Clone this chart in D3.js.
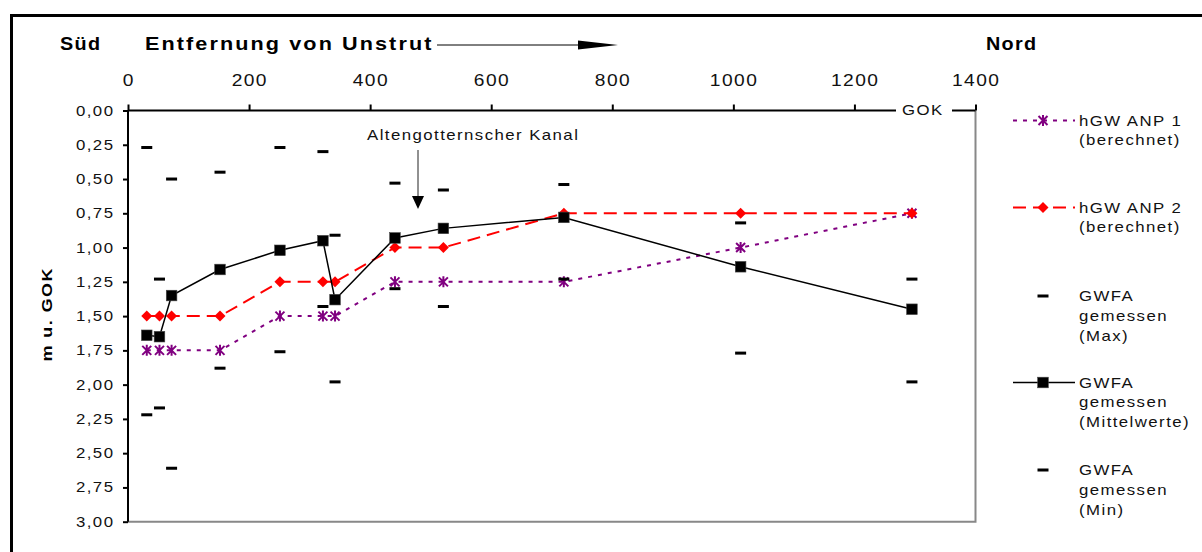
<!DOCTYPE html>
<html>
<head>
<meta charset="utf-8">
<script src="https://cdn.jsdelivr.net/npm/d3@7"></script>
<style>
  html, body { margin: 0; padding: 0; background: #fff; }
  svg { display: block; font-family: "Liberation Sans", Arial, sans-serif; }
</style>
</head>
<body>
<svg id="chart" width="1202" height="552"></svg>
<script>
// ---- data ----
const distances = [31, 52, 72, 152, 251, 322, 342, 441, 521, 720, 1012, 1295];
const anp1      = [1.75, 1.75, 1.75, 1.75, 1.50, 1.50, 1.50, 1.25, 1.25, 1.25, 1.00, 0.75];
const anp2      = [1.50, 1.50, 1.50, 1.50, 1.25, 1.25, 1.25, 1.00, 1.00, 0.75, 0.75, 0.75];
const gwfaMax   = [0.27, 1.23, 0.50, 0.45, 0.27, 0.30, 0.91, 0.53, 0.58, 0.54, 0.82, 1.23];
const gwfaMean  = [1.64, 1.65, 1.35, 1.16, 1.02, 0.95, 1.38, 0.93, 0.86, 0.78, 1.14, 1.45];
const gwfaMin   = [2.22, 2.17, 2.61, 1.88, 1.76, 1.43, 1.98, 1.30, 1.43, 1.23, 1.77, 1.98];
const xTicks = [0, 200, 400, 600, 800, 1000, 1200, 1400];
const yTicks = [0, 0.25, 0.5, 0.75, 1, 1.25, 1.5, 1.75, 2, 2.25, 2.5, 2.75, 3];
const legendLabels = [
  ["hGW ANP 1", "(berechnet)"],
  ["hGW ANP 2", "(berechnet)"],
  ["GWFA", "gemessen", "(Max)"],
  ["GWFA", "gemessen", "(Mittelwerte)"],
  ["GWFA", "gemessen", "(Min)"]
];

const svg = d3.select("#chart");
const SX = 1.2;   // horizontal stretch of the text
const LS = 1.2;   // letter spacing (before stretch)

const x = d3.scaleLinear().domain([0, 1400]).range([128, 975.5]);
const y = d3.scaleLinear().domain([0, 3]).range([110.5, 521.7]);

function txt(parent, px, py, s, size, opts = {}) {
  const sx = opts.sx || SX;
  const ls = opts.ls !== undefined ? opts.ls : LS;
  let ax = px;
  if (opts.anchor === "end") ax += ls * sx;
  if (opts.anchor === "middle") ax += ls * sx / 2;
  const t = parent.append("text")
    .attr("transform", opts.rotate
      ? `translate(${px},${py}) rotate(${opts.rotate}) translate(${(ls * sx) / 2},0) scale(${sx},1)`
      : `translate(${ax},${py}) scale(${sx},1)`)
    .attr("font-size", size)
    .attr("font-weight", opts.weight || "normal")
    .attr("letter-spacing", ls)
    .attr("text-anchor", opts.anchor || "start")
    .attr("fill", opts.fill || "#000")
    .text(s);
  return t;
}

// outer frame
svg.append("rect").attr("x", 11.5).attr("y", 15.5).attr("width", 1400).attr("height", 800)
  .attr("fill", "none").attr("stroke", "#000").attr("stroke-width", 3);

// plot border (gray right and bottom)
svg.append("path")
  .attr("d", `M${x(0)},${y(3)} H${x(1400)} V${y(0)}`)
  .attr("fill", "none").attr("stroke", "#888").attr("stroke-width", 2);

// top axis
const topAxis = d3.axisTop(x).tickValues(xTicks).tickSize(6).tickSizeOuter(0).tickFormat("");
const gTop = svg.append("g").attr("transform", `translate(0,${y(0)})`).call(topAxis);
gTop.selectAll("path, line").attr("stroke", "#000").attr("stroke-width", 2);
gTop.select("path.domain").attr("d", `M${x(0)},0H${x(1400)}`);

// left axis
const leftAxis = d3.axisLeft(y).tickValues(yTicks).tickSize(5).tickSizeOuter(0).tickFormat("");
const gLeft = svg.append("g").attr("transform", `translate(${x(0)},0)`).call(leftAxis);
gLeft.selectAll("path, line").attr("stroke", "#000").attr("stroke-width", 2);
gLeft.select("path.domain").attr("d", `M0,${y(0)}V${y(3)}`);

// tick labels
xTicks.forEach(v => txt(svg, x(v), 86, String(v), 16, { anchor: "middle", fill: "#111" }));
yTicks.forEach(v => txt(svg, 113, y(v) + 5, v.toFixed(2).replace(".", ","), 14, { anchor: "end", fill: "#111" }));

// GOK label on the axis
svg.append("rect").attr("x", 896).attr("y", 100).attr("width", 56).attr("height", 18).attr("fill", "#fff");
txt(svg, 922, 115, "GOK", 14, { anchor: "middle", fill: "#111" });

// titles
txt(svg, 60, 50, "Süd", 18, { weight: "bold", sx: 1.1, ls: 1.2 });
txt(svg, 145, 50, "Entfernung von Unstrut", 18, { weight: "bold", sx: 1.2, ls: 1.75 });
txt(svg, 986, 50, "Nord", 18, { weight: "bold", sx: 1.1, ls: 1.2 });
svg.append("line").attr("x1", 437).attr("y1", 45).attr("x2", 585).attr("y2", 45)
  .attr("stroke", "#000").attr("stroke-width", 1);
svg.append("path").attr("d", "M578,40.5 L618,45 L578,49.5 Z").attr("fill", "#000");

// y-axis title
txt(svg, 52, 315, "m u. GOK", 15, { weight: "bold", rotate: -90, anchor: "middle" });

// annotation
txt(svg, 367, 140, "Altengotternscher Kanal", 14, { fill: "#111" });
svg.append("line").attr("x1", 418).attr("y1", 150).attr("x2", 418).attr("y2", 198)
  .attr("stroke", "#222").attr("stroke-width", 1);
svg.append("path").attr("d", "M412,196 L424,196 L418,209 Z").attr("fill", "#000");

// ---- series ----
const pts = vals => distances.map((d, i) => [x(d), y(vals[i])]);
const lineGen = d3.line();

const PURPLE = "#800080", RED = "#ff0000";

function asterisk(g, cx, cy, s) {
  g.append("path")
    .attr("d", `M${cx - s},${cy - s}L${cx + s},${cy + s}M${cx - s},${cy + s}L${cx + s},${cy - s}M${cx},${cy - s - 1}L${cx},${cy + s + 1}`)
    .attr("stroke", PURPLE).attr("stroke-width", 2).attr("fill", "none");
}
function diamond(g, cx, cy, s) {
  g.append("path").attr("d", `M${cx},${cy - s}L${cx + s},${cy}L${cx},${cy + s}L${cx - s},${cy}Z`)
    .attr("fill", RED);
}
function square(g, cx, cy, s) {
  g.append("rect").attr("x", cx - s).attr("y", cy - s).attr("width", 2 * s).attr("height", 2 * s)
    .attr("fill", "#000").attr("stroke", "#444").attr("stroke-width", 0.6);
}
function dash(g, cx, cy) {
  g.append("rect").attr("x", cx - 5.5).attr("y", cy - 1.5).attr("width", 11).attr("height", 3).attr("fill", "#000");
}

const gS = svg.append("g");
// ANP 1
gS.append("path").attr("d", lineGen(pts(anp1))).attr("fill", "none")
  .attr("stroke", PURPLE).attr("stroke-width", 2).attr("stroke-dasharray", "4,6");
pts(anp1).forEach(p => asterisk(gS, p[0], p[1], 4.5));
// ANP 2
gS.append("path").attr("d", lineGen(pts(anp2))).attr("fill", "none")
  .attr("stroke", RED).attr("stroke-width", 2).attr("stroke-dasharray", "13,7");
pts(anp2).forEach(p => diamond(gS, p[0], p[1], 5.5));
// Max
pts(gwfaMax).forEach(p => dash(gS, p[0], p[1]));
// Mean
gS.append("path").attr("d", lineGen(pts(gwfaMean))).attr("fill", "none")
  .attr("stroke", "#000").attr("stroke-width", 1.5);
pts(gwfaMean).forEach(p => square(gS, p[0], p[1], 5.3));
// Min
pts(gwfaMin).forEach(p => dash(gS, p[0], p[1]));

// ---- legend ----
const gL = svg.append("g");
const legY = [120.5, 207.5, 296, 382.5, 470];
const lx1 = 1013, lx2 = 1075, lmx = 1043;
// ANP1
gL.append("line").attr("x1", lx1).attr("x2", lx2).attr("y1", legY[0]).attr("y2", legY[0])
  .attr("stroke", PURPLE).attr("stroke-width", 2).attr("stroke-dasharray", "4,6");
asterisk(gL, lmx, legY[0], 4.5);
// ANP2
gL.append("line").attr("x1", lx1).attr("x2", lx2).attr("y1", legY[1]).attr("y2", legY[1])
  .attr("stroke", RED).attr("stroke-width", 2).attr("stroke-dasharray", "13,7");
diamond(gL, lmx, legY[1], 5.5);
// Max
dash(gL, lmx, legY[2]);
// Mean
gL.append("line").attr("x1", lx1).attr("x2", lx2).attr("y1", legY[3]).attr("y2", legY[3])
  .attr("stroke", "#000").attr("stroke-width", 1.5);
square(gL, lmx, legY[3], 5.3);
// Min
dash(gL, lmx, legY[4]);

legendLabels.forEach((lines, i) => {
  lines.forEach((s, j) => txt(gL, 1079, legY[i] + 5 + j * 19.8, s, 14, { fill: "#111" }));
});
</script>
</body>
</html>
